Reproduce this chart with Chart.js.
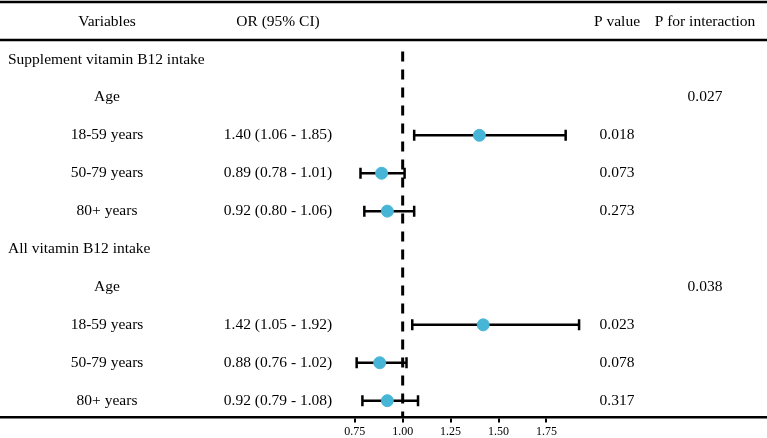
<!DOCTYPE html>
<html>
<head>
<meta charset="utf-8">
<script src="https://cdn.jsdelivr.net/npm/chart.js@4.4.1/dist/chart.umd.min.js"></script>
<style>
	body { margin: 0; background: #fff; }
	.forest_box { width: 767px; height: 438px; }
</style>
</head>
<body>
<div class="forest_box"><canvas class="forest_canvas"></canvas></div>
<script>
const headers = [ 'Variables', 'OR (95% CI)', 'P value', 'P for interaction' ];
const rowLabels = [ 'Supplement vitamin B12 intake', 'Age', '18-59 years', '50-79 years', '80+ years',
	'All vitamin B12 intake', 'Age', '18-59 years', '50-79 years', '80+ years' ];
const orValues = [ null, null, 1.40, 0.89, 0.92, null, null, 1.42, 0.88, 0.92 ];
const lowerCI = [ null, null, 1.06, 0.78, 0.80, null, null, 1.05, 0.76, 0.79 ];
const upperCI = [ null, null, 1.85, 1.01, 1.06, null, null, 1.92, 1.02, 1.08 ];
const orText = [ '', '', '1.40 (1.06 - 1.85)', '0.89 (0.78 - 1.01)', '0.92 (0.80 - 1.06)',
	'', '', '1.42 (1.05 - 1.92)', '0.88 (0.76 - 1.02)', '0.92 (0.79 - 1.08)' ];
const pValues = [ '', '', '0.018', '0.073', '0.273', '', '', '0.023', '0.078', '0.317' ];
const pInteraction = [ '', '0.027', '', '', '', '', '0.038', '', '', '' ];
const xTicks = [ 0.75, 1.00, 1.25, 1.50, 1.75 ];

const serif = "'Liberation Serif', 'Times New Roman', serif";
const dotColor = '#46B5D6';
const yMin = -0.57;
const yMax = 10.447;

// rows start at 1, header is row 0
const dotData = [];
const ciSets = [];
orValues.forEach(function(v, i) {
	if (v === null) return;
	dotData.push({ x : v, y : i + 1 });
	ciSets.push({
		type : 'line',
		data : [ { x : lowerCI[i], y : i + 1 }, { x : upperCI[i], y : i + 1 } ],
		borderColor : '#000',
		borderWidth : 2.5,
		pointStyle : 'line',
		rotation : 90,
		pointRadius : 5.5,
		pointBorderWidth : 2.5,
		pointBorderColor : '#000',
		pointHoverRadius : 5.5,
		order : 2
	});
});

const tablePlugin = {
	id : 'tableText',
	afterDraw(chart) {
		const c = chart.ctx;
		const yS = chart.scales.y;
		const w = chart.width;
		c.save();
		c.strokeStyle = '#000';
		c.lineWidth = 2.5;
		c.beginPath();
		c.moveTo(0, 2); c.lineTo(w, 2);
		c.moveTo(0, 40); c.lineTo(w, 40);
		c.stroke();

		c.fillStyle = '#000';
		c.font = '15.5px ' + serif;
		c.textBaseline = 'middle';
		c.textAlign = 'center';
		const cols = [ 107, 278, 617, 705 ];
		const hy = yS.getPixelForValue(0);
		headers.forEach(function(h, k) { c.fillText(h, cols[k], hy); });

		rowLabels.forEach(function(lab, i) {
			const y = yS.getPixelForValue(i + 1);
			if (i === 0 || i === 5) {
				c.textAlign = 'left';
				c.fillText(lab, 8, y);
			} else {
				c.textAlign = 'center';
				c.fillText(lab, cols[0], y);
			}
			c.textAlign = 'center';
			if (orText[i]) c.fillText(orText[i], cols[1], y);
			if (pValues[i]) c.fillText(pValues[i], cols[2], y);
			if (pInteraction[i]) c.fillText(pInteraction[i], cols[3], y);
		});
		c.restore();
	}
};

const ctx = document.querySelector(".forest_canvas");
const forest = new Chart(ctx, {
	type : 'scatter',
	data : {
		datasets : [ {
			label : 'OR',
			data : dotData,
			backgroundColor : dotColor,
			borderColor : dotColor,
			pointRadius : 6,
			pointHoverRadius : 6,
			order : 0
		}, {
			type : 'line',
			label : 'ref',
			data : [ { x : 1, y : 0.79 }, { x : 1, y : yMax } ],
			borderColor : '#000',
			borderWidth : 3,
			borderDash : [ 10, 8 ],
			pointRadius : 0,
			order : 3
		} ].concat(ciSets)
	},
	options : {
		responsive : true,
		maintainAspectRatio : false,
		animation : false,
		layout : { autoPadding : false, padding : { top : 0, left : 0, right : 0, bottom : -3 } },
		plugins : {
			legend : { display : false },
			tooltip : { enabled : false }
		},
		scales : {
			x : {
				type : 'linear',
				min : -1.1,
				max : 2.9,
				afterBuildTicks : function(axis) {
					axis.ticks = xTicks.map(function(v) { return { value : v }; });
				},
				ticks : {
					color : '#000',
					padding : 2,
					font : { family : serif, size : 12 },
					callback : function(v) { return Number(v).toFixed(2); }
				},
				grid : {
					drawOnChartArea : false,
					drawTicks : true,
					tickLength : 5,
					color : '#000',
					lineWidth : 2
				},
				border : { display : true, color : '#000', width : 2.5 }
			},
			y : {
				type : 'linear',
				display : false,
				reverse : true,
				min : yMin,
				max : yMax
			}
		}
	},
	plugins : [ tablePlugin ]
});
</script>
</body>
</html>
